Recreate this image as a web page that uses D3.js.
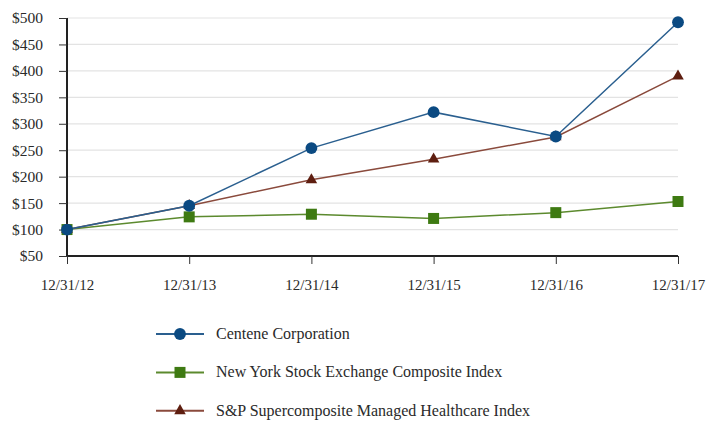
<!DOCTYPE html>
<html><head><meta charset="utf-8">
<script src="https://cdn.jsdelivr.net/npm/d3@7"></script>
<style>body{margin:0;background:#fff}svg{display:block}
text{font-family:"Liberation Serif","Times New Roman",serif !important;fill:#2a2a2a}</style>
</head><body>
<svg id="c" width="709" height="423"></svg>
<script>
const dates = ["12/31/12","12/31/13","12/31/14","12/31/15","12/31/16","12/31/17"];
const centene = [100,145,254,322,276,492];
const nyse = [100,124,129,121,132,153];
const spHealth = [100,145,194,233,275,390];
const yTicks = [50,100,150,200,250,300,350,400,450,500];
const seriesNames = ["Centene Corporation","New York Stock Exchange Composite Index","S&P Supercomposite Managed Healthcare Index"];

const svg = d3.select("#c");
const x = d3.scalePoint().domain(dates).range([67,678]);
const y = d3.scaleLinear().domain([50,500]).range([256,18]);

// gridlines
svg.append("g").selectAll("line").data(yTicks.filter(d=>d>50)).join("line")
  .attr("x1",67).attr("x2",678).attr("y1",d=>y(d)).attr("y2",d=>y(d))
  .attr("stroke","#e3e3e3").attr("stroke-width",1.2);

// y axis
const ya = svg.append("g").attr("transform","translate(67,0)")
  .call(d3.axisLeft(y).tickValues(yTicks).tickFormat(d=>"$"+d).tickSize(8).tickPadding(16));
ya.select(".domain").attr("stroke","#222").attr("stroke-width",2).attr("d","M0,18V256");
ya.selectAll(".tick line").attr("stroke","#333");
ya.selectAll("text").attr("font-size",15.5);

// x axis
const xa = svg.append("g").attr("transform","translate(0,256)")
  .call(d3.axisBottom(x).tickSize(8).tickPadding(15));
xa.select(".domain").attr("stroke","#222").attr("stroke-width",2).attr("d","M67,0H678");
xa.selectAll(".tick line").attr("stroke","#333");
xa.selectAll("text").attr("font-size",15);

const series = [
  {name:seriesNames[0], vals:centene, line:"#2a5f8f", mark:"#0b4a82", shape:"circle"},
  {name:seriesNames[1], vals:nyse, line:"#5c8a2e", mark:"#3e7a12", shape:"square"},
  {name:seriesNames[2], vals:spHealth, line:"#8a4a3c", mark:"#5e1e10", shape:"triangle"}
];
const drawOrder = [series[1], series[2], series[0]];
const line = d3.line().x((d,i)=>x(dates[i])).y(d=>y(d));
const sym = {circle:d3.symbolCircle, square:d3.symbolSquare, triangle:d3.symbolTriangle};
const size = {circle:110, square:121, triangle:58};

drawOrder.forEach(s=>{
  svg.append("path").attr("d",line(s.vals)).attr("fill","none").attr("stroke",s.line).attr("stroke-width",1.5);
});
drawOrder.forEach(s=>{
  svg.append("g").selectAll("path").data(s.vals).join("path")
    .attr("transform",(d,i)=>`translate(${x(dates[i])},${y(d)})`)
    .attr("d",d3.symbol().type(sym[s.shape]).size(size[s.shape]))
    .attr("fill",s.mark);
});

// legend
series.forEach((s,i)=>{
  const ly = 334 + i*38.4;
  const g = svg.append("g");
  g.append("line").attr("x1",156).attr("x2",204).attr("y1",ly).attr("y2",ly).attr("stroke",s.line).attr("stroke-width",2);
  g.append("path").attr("transform",`translate(180,${ly})`)
    .attr("d",d3.symbol().type(sym[s.shape]).size(size[s.shape])).attr("fill",s.mark);
  g.append("text").attr("x",216).attr("y",ly+5).text(s.name).attr("font-size",16);
});
</script>
</body></html>
